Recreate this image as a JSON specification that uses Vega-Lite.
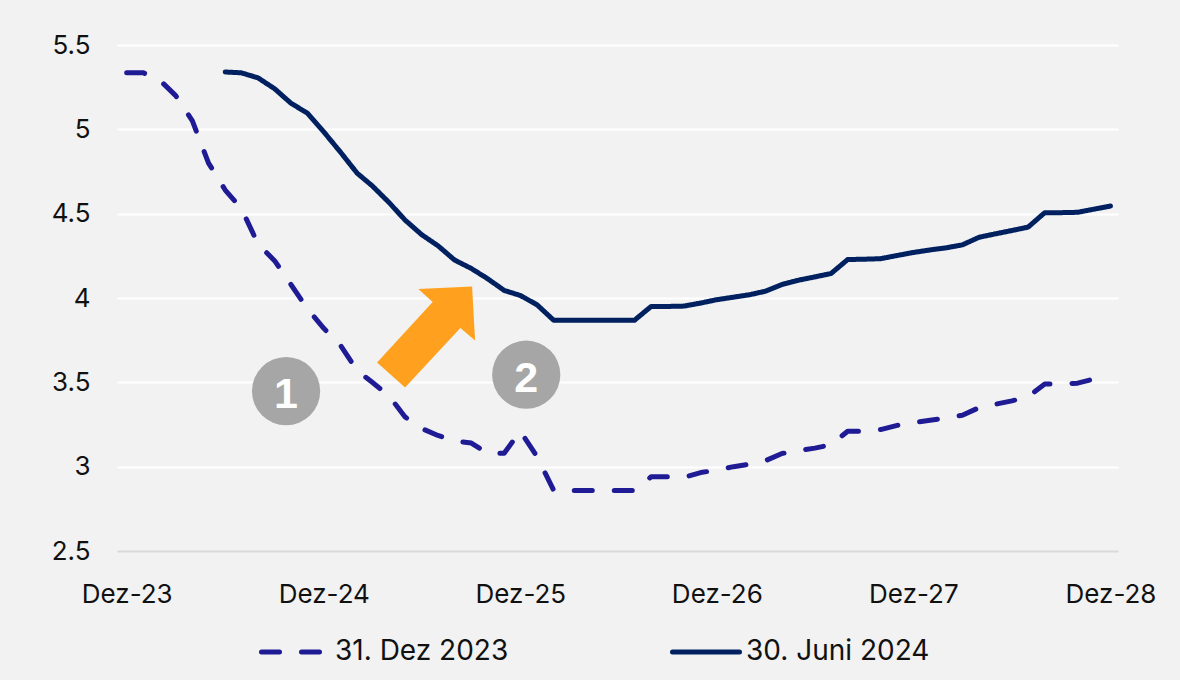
{
  "$schema": "https://vega.github.io/schema/vega-lite/v6.json",
  "autosize": "none",
  "width": 1001,
  "height": 506,
  "padding": {"left": 117, "top": 45, "right": 62, "bottom": 129},
  "background": "#f2f2f2",
  "config": {"view": {"stroke": null}},
  "datasets": {
    "curves": [
      {"date":"2023-12-01","series":"31. Dez 2023","value":5.335},
      {"date":"2024-01-01","series":"31. Dez 2023","value":5.335},
      {"date":"2024-02-01","series":"31. Dez 2023","value":5.29},
      {"date":"2024-03-01","series":"31. Dez 2023","value":5.2},
      {"date":"2024-04-01","series":"31. Dez 2023","value":5.05},
      {"date":"2024-05-01","series":"31. Dez 2023","value":4.8},
      {"date":"2024-06-01","series":"31. Dez 2023","value":4.64},
      {"date":"2024-07-01","series":"31. Dez 2023","value":4.53},
      {"date":"2024-08-01","series":"31. Dez 2023","value":4.32},
      {"date":"2024-09-01","series":"31. Dez 2023","value":4.22},
      {"date":"2024-10-01","series":"31. Dez 2023","value":4.08},
      {"date":"2024-11-01","series":"31. Dez 2023","value":3.935},
      {"date":"2024-12-01","series":"31. Dez 2023","value":3.82},
      {"date":"2025-01-01","series":"31. Dez 2023","value":3.72},
      {"date":"2025-02-01","series":"31. Dez 2023","value":3.57},
      {"date":"2025-03-01","series":"31. Dez 2023","value":3.5},
      {"date":"2025-04-01","series":"31. Dez 2023","value":3.42},
      {"date":"2025-05-01","series":"31. Dez 2023","value":3.295},
      {"date":"2025-06-01","series":"31. Dez 2023","value":3.226},
      {"date":"2025-07-01","series":"31. Dez 2023","value":3.185},
      {"date":"2025-08-01","series":"31. Dez 2023","value":3.153},
      {"date":"2025-09-01","series":"31. Dez 2023","value":3.14},
      {"date":"2025-10-01","series":"31. Dez 2023","value":3.08},
      {"date":"2025-11-01","series":"31. Dez 2023","value":3.08},
      {"date":"2025-12-01","series":"31. Dez 2023","value":3.21},
      {"date":"2026-01-01","series":"31. Dez 2023","value":3.06},
      {"date":"2026-02-01","series":"31. Dez 2023","value":2.86},
      {"date":"2026-03-01","series":"31. Dez 2023","value":2.858},
      {"date":"2026-04-01","series":"31. Dez 2023","value":2.858},
      {"date":"2026-05-01","series":"31. Dez 2023","value":2.858},
      {"date":"2026-06-01","series":"31. Dez 2023","value":2.858},
      {"date":"2026-07-01","series":"31. Dez 2023","value":2.858},
      {"date":"2026-08-01","series":"31. Dez 2023","value":2.94},
      {"date":"2026-09-01","series":"31. Dez 2023","value":2.94},
      {"date":"2026-10-01","series":"31. Dez 2023","value":2.937},
      {"date":"2026-11-01","series":"31. Dez 2023","value":2.965},
      {"date":"2026-12-01","series":"31. Dez 2023","value":2.98},
      {"date":"2027-01-01","series":"31. Dez 2023","value":3.0},
      {"date":"2027-02-01","series":"31. Dez 2023","value":3.015},
      {"date":"2027-03-01","series":"31. Dez 2023","value":3.035},
      {"date":"2027-04-01","series":"31. Dez 2023","value":3.078},
      {"date":"2027-05-01","series":"31. Dez 2023","value":3.095},
      {"date":"2027-06-01","series":"31. Dez 2023","value":3.11},
      {"date":"2027-07-01","series":"31. Dez 2023","value":3.13},
      {"date":"2027-08-01","series":"31. Dez 2023","value":3.21},
      {"date":"2027-09-01","series":"31. Dez 2023","value":3.21},
      {"date":"2027-10-01","series":"31. Dez 2023","value":3.22},
      {"date":"2027-11-01","series":"31. Dez 2023","value":3.245},
      {"date":"2027-12-01","series":"31. Dez 2023","value":3.262},
      {"date":"2028-01-01","series":"31. Dez 2023","value":3.275},
      {"date":"2028-02-01","series":"31. Dez 2023","value":3.29},
      {"date":"2028-03-01","series":"31. Dez 2023","value":3.305},
      {"date":"2028-04-01","series":"31. Dez 2023","value":3.35},
      {"date":"2028-05-01","series":"31. Dez 2023","value":3.37},
      {"date":"2028-06-01","series":"31. Dez 2023","value":3.39},
      {"date":"2028-07-01","series":"31. Dez 2023","value":3.415},
      {"date":"2028-08-01","series":"31. Dez 2023","value":3.49},
      {"date":"2028-09-01","series":"31. Dez 2023","value":3.49},
      {"date":"2028-10-01","series":"31. Dez 2023","value":3.495},
      {"date":"2028-11-01","series":"31. Dez 2023","value":3.52},
      {"date":"2028-12-01","series":"31. Dez 2023","value":3.535},
      {"date":"2024-06-01","series":"30. Juni 2024","value":5.34},
      {"date":"2024-07-01","series":"30. Juni 2024","value":5.335},
      {"date":"2024-08-01","series":"30. Juni 2024","value":5.305},
      {"date":"2024-09-01","series":"30. Juni 2024","value":5.24},
      {"date":"2024-10-01","series":"30. Juni 2024","value":5.155},
      {"date":"2024-11-01","series":"30. Juni 2024","value":5.095},
      {"date":"2024-12-01","series":"30. Juni 2024","value":4.985},
      {"date":"2025-01-01","series":"30. Juni 2024","value":4.865},
      {"date":"2025-02-01","series":"30. Juni 2024","value":4.74},
      {"date":"2025-03-01","series":"30. Juni 2024","value":4.665},
      {"date":"2025-04-01","series":"30. Juni 2024","value":4.567},
      {"date":"2025-05-01","series":"30. Juni 2024","value":4.462},
      {"date":"2025-06-01","series":"30. Juni 2024","value":4.375},
      {"date":"2025-07-01","series":"30. Juni 2024","value":4.31},
      {"date":"2025-08-01","series":"30. Juni 2024","value":4.225},
      {"date":"2025-09-01","series":"30. Juni 2024","value":4.175},
      {"date":"2025-10-01","series":"30. Juni 2024","value":4.115},
      {"date":"2025-11-01","series":"30. Juni 2024","value":4.045},
      {"date":"2025-12-01","series":"30. Juni 2024","value":4.015},
      {"date":"2026-01-01","series":"30. Juni 2024","value":3.96},
      {"date":"2026-02-01","series":"30. Juni 2024","value":3.868},
      {"date":"2026-03-01","series":"30. Juni 2024","value":3.868},
      {"date":"2026-04-01","series":"30. Juni 2024","value":3.868},
      {"date":"2026-05-01","series":"30. Juni 2024","value":3.868},
      {"date":"2026-06-01","series":"30. Juni 2024","value":3.868},
      {"date":"2026-07-01","series":"30. Juni 2024","value":3.868},
      {"date":"2026-08-01","series":"30. Juni 2024","value":3.95},
      {"date":"2026-09-01","series":"30. Juni 2024","value":3.95},
      {"date":"2026-10-01","series":"30. Juni 2024","value":3.952},
      {"date":"2026-11-01","series":"30. Juni 2024","value":3.97},
      {"date":"2026-12-01","series":"30. Juni 2024","value":3.99},
      {"date":"2027-01-01","series":"30. Juni 2024","value":4.005},
      {"date":"2027-02-01","series":"30. Juni 2024","value":4.02},
      {"date":"2027-03-01","series":"30. Juni 2024","value":4.04},
      {"date":"2027-04-01","series":"30. Juni 2024","value":4.08},
      {"date":"2027-05-01","series":"30. Juni 2024","value":4.105},
      {"date":"2027-06-01","series":"30. Juni 2024","value":4.125},
      {"date":"2027-07-01","series":"30. Juni 2024","value":4.145},
      {"date":"2027-08-01","series":"30. Juni 2024","value":4.228},
      {"date":"2027-09-01","series":"30. Juni 2024","value":4.23},
      {"date":"2027-10-01","series":"30. Juni 2024","value":4.233},
      {"date":"2027-11-01","series":"30. Juni 2024","value":4.252},
      {"date":"2027-12-01","series":"30. Juni 2024","value":4.27},
      {"date":"2028-01-01","series":"30. Juni 2024","value":4.285},
      {"date":"2028-02-01","series":"30. Juni 2024","value":4.298},
      {"date":"2028-03-01","series":"30. Juni 2024","value":4.315},
      {"date":"2028-04-01","series":"30. Juni 2024","value":4.36},
      {"date":"2028-05-01","series":"30. Juni 2024","value":4.38},
      {"date":"2028-06-01","series":"30. Juni 2024","value":4.4},
      {"date":"2028-07-01","series":"30. Juni 2024","value":4.42},
      {"date":"2028-08-01","series":"30. Juni 2024","value":4.506},
      {"date":"2028-09-01","series":"30. Juni 2024","value":4.506},
      {"date":"2028-10-01","series":"30. Juni 2024","value":4.508},
      {"date":"2028-11-01","series":"30. Juni 2024","value":4.527},
      {"date":"2028-12-01","series":"30. Juni 2024","value":4.545}
    ],
    "badges": [
      {"date":"2024-09-22","value":3.448,"label":"1"},
      {"date":"2025-12-12","value":3.545,"label":"2"}
    ],
    "arrow": [
      {"date":"2025-06-09","value":3.769}
    ]
  },
  "encoding": {
    "x": {
      "field": "date",
      "type": "temporal",
      "scale": {
        "type": "utc",
        "domain": [
          {"year": 2023, "month": 11, "date": 13, "utc": true},
          {"year": 2028, "month": 12, "date": 15, "utc": true}
        ]
      },
      "axis": {
        "title": null,
        "values": [
          {"year": 2023, "month": 12, "date": 1, "utc": true},
          {"year": 2024, "month": 12, "date": 1, "utc": true},
          {"year": 2025, "month": 12, "date": 1, "utc": true},
          {"year": 2026, "month": 12, "date": 1, "utc": true},
          {"year": 2027, "month": 12, "date": 1, "utc": true},
          {"year": 2028, "month": 12, "date": 1, "utc": true}
        ],
        "format": "Dez-%y",
        "grid": false,
        "ticks": false,
        "domain": false,
        "labelFont": "Inter",
        "labelFontSize": 26,
        "labelColor": "#111111",
        "labelBaseline": "alphabetic",
        "labelPadding": 51,
        "labelOverlap": false,
        "labelFlush": false
      }
    },
    "y": {
      "field": "value",
      "type": "quantitative",
      "scale": {"domain": [2.5, 5.5], "nice": false, "zero": false},
      "axis": {
        "title": null,
        "values": [2.5, 3, 3.5, 4, 4.5, 5, 5.5],
        "format": "~g",
        "domain": false,
        "ticks": false,
        "labelFont": "Inter",
        "labelFontSize": 26,
        "labelColor": "#111111",
        "labelPadding": 27,
        "grid": true,
        "gridWidth": 2,
        "gridColor": {"condition": {"test": "datum.value === 2.5", "value": "#d9d9d9"}, "value": "#ffffff"}
      }
    }
  },
  "layer": [
    {
      "data": {"name": "curves"},
      "mark": {"type": "line", "strokeWidth": 5, "strokeCap": "round", "strokeJoin": "round"},
      "encoding": {
        "color": {
          "field": "series",
          "type": "nominal",
          "scale": {"domain": ["31. Dez 2023", "30. Juni 2024"], "range": ["#1f1b94", "#002060"]},
          "legend": {
            "title": null,
            "orient": "none",
            "direction": "horizontal",
            "legendX": 142,
            "legendY": 571,
            "padding": 0,
            "symbolType": "stroke",
            "symbolSize": 4489,
            "symbolStrokeWidth": 5,
            "labelFont": "Inter",
            "labelFontSize": 28,
            "labelColor": "#111111",
            "labelOffset": 4,
            "labelLimit": 400,
            "columnPadding": 153,
            "encode": {"symbols": {"update": {"strokeCap": {"value": "round"}}}}
          }
        },
        "strokeDash": {
          "field": "series",
          "type": "nominal",
          "scale": {"domain": ["31. Dez 2023", "30. Juni 2024"], "range": [[18, 22], [1, 0]]},
          "legend": {
            "title": null,
            "orient": "none",
            "direction": "horizontal",
            "legendX": 142,
            "legendY": 571,
            "padding": 0,
            "symbolType": "stroke",
            "symbolSize": 4489,
            "symbolStrokeWidth": 5,
            "labelFont": "Inter",
            "labelFontSize": 28,
            "labelColor": "#111111",
            "labelOffset": 4,
            "labelLimit": 400,
            "columnPadding": 153,
            "encode": {"symbols": {"update": {"strokeCap": {"value": "round"}}}}
          }
        }
      }
    },
    {
      "data": {"name": "arrow"},
      "mark": {
        "type": "point",
        "shape": "M-0.961,0.5 L0.129,-0.684 L-0.151,-0.939 L0.902,-0.99 L0.961,0.069 L0.673,-0.175 L-0.412,0.99 Z",
        "filled": true,
        "fill": "#ffa11e",
        "strokeWidth": 0,
        "opacity": 1,
        "size": 10404
      }
    },
    {
      "data": {"name": "badges"},
      "mark": {"type": "point", "shape": "circle", "filled": true, "fill": "#a6a6a6", "strokeWidth": 0, "opacity": 1, "size": 4657}
    },
    {
      "data": {"name": "badges"},
      "mark": {"type": "text", "font": "Liberation Sans", "fontWeight": "bold", "fontSize": 43, "color": "#ffffff", "align": "center", "baseline": "middle", "dy": 4},
      "encoding": {"text": {"field": "label", "type": "nominal"}}
    }
  ]
}
